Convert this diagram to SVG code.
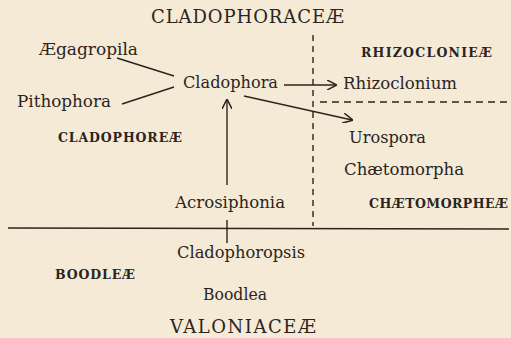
<svg xmlns="http://www.w3.org/2000/svg" width="511" height="338" viewBox="0 0 511 338">
<style>
text{fill:#2a241d}
.n{font-size:16px}
.h{font-size:18px}
.s{font-size:12.5px;font-weight:bold}
.ln{stroke:#2a241d;stroke-width:1.4;fill:none}
.d{stroke:#2a241d;stroke-width:1.4;fill:none;stroke-dasharray:6 5}
</style>
<defs>
<marker id="ah" viewBox="0 0 10 10" refX="9" refY="5" markerWidth="10" markerHeight="10" markerUnits="userSpaceOnUse" orient="auto">
<path d="M0,0 L10,5 L0,10" fill="none" stroke="#2a241d" stroke-width="1.5"/>
</marker>
</defs>
<rect width="511" height="338" fill="#f5ead6"/>
<g id="connectors">
<line class="ln" x1="117" y1="58" x2="174" y2="76"/>
<line class="ln" x1="122" y1="104" x2="174" y2="87"/>
<line class="ln" x1="284" y1="85" x2="336" y2="85" marker-end="url(#ah)"/>
<line class="ln" x1="244" y1="96" x2="352" y2="120" marker-end="url(#ah)"/>
<line class="ln" x1="227" y1="185" x2="227" y2="100" marker-end="url(#ah)"/>
<line class="d" x1="313" y1="35" x2="313" y2="226"/>
<line class="d" x1="320" y1="102" x2="507" y2="102" style="stroke-dasharray:7 5"/>
<line class="ln" x1="8" y1="228" x2="509" y2="229"/>
<line class="ln" x1="227" y1="220" x2="227" y2="243"/>
</g>
<g font-family="DejaVu Serif, Liberation Serif, serif">
<g id="title-cladophoraceae"><text class="h" x="151" y="23" textLength="193" lengthAdjust="spacing">CLADOPHORACEÆ</text></g>
<g id="aegagropila"><text class="n" x="39" y="55" textLength="99" lengthAdjust="spacingAndGlyphs">Ægagropila</text></g>
<g id="pithophora"><text class="n" x="17" y="107" textLength="94" lengthAdjust="spacingAndGlyphs">Pithophora</text></g>
<g id="cladophora"><text class="n" x="183" y="88" textLength="95" lengthAdjust="spacingAndGlyphs">Cladophora</text></g>
<g id="cladophoreae"><text class="s" x="58" y="142" textLength="124" lengthAdjust="spacing">CLADOPHOREÆ</text></g>
<g id="rhizoclonieae"><text class="s" x="361" y="57" textLength="131" lengthAdjust="spacing">RHIZOCLONIEÆ</text></g>
<g id="rhizoclonium"><text class="n" x="343" y="89" textLength="114" lengthAdjust="spacingAndGlyphs">Rhizoclonium</text></g>
<g id="urospora"><text class="n" x="349" y="143" textLength="77" lengthAdjust="spacingAndGlyphs">Urospora</text></g>
<g id="chaetomorpha"><text class="n" x="344" y="175" textLength="120" lengthAdjust="spacingAndGlyphs">Chætomorpha</text></g>
<g id="chaetomorpheae"><text class="s" x="369" y="208" textLength="139" lengthAdjust="spacing">CHÆTOMORPHEÆ</text></g>
<g id="acrosiphonia"><text class="n" x="175" y="208" textLength="110" lengthAdjust="spacingAndGlyphs">Acrosiphonia</text></g>
<g id="cladophoropsis"><text class="n" x="177" y="258" textLength="128" lengthAdjust="spacingAndGlyphs">Cladophoropsis</text></g>
<g id="boodleae"><text class="s" x="55" y="279" textLength="80" lengthAdjust="spacing">BOODLEÆ</text></g>
<g id="boodlea"><text class="n" x="203" y="300" textLength="64" lengthAdjust="spacingAndGlyphs">Boodlea</text></g>
<g id="title-valoniaceae"><text class="h" x="170" y="333" textLength="146" lengthAdjust="spacing">VALONIACEÆ</text></g>
</g>
</svg>
